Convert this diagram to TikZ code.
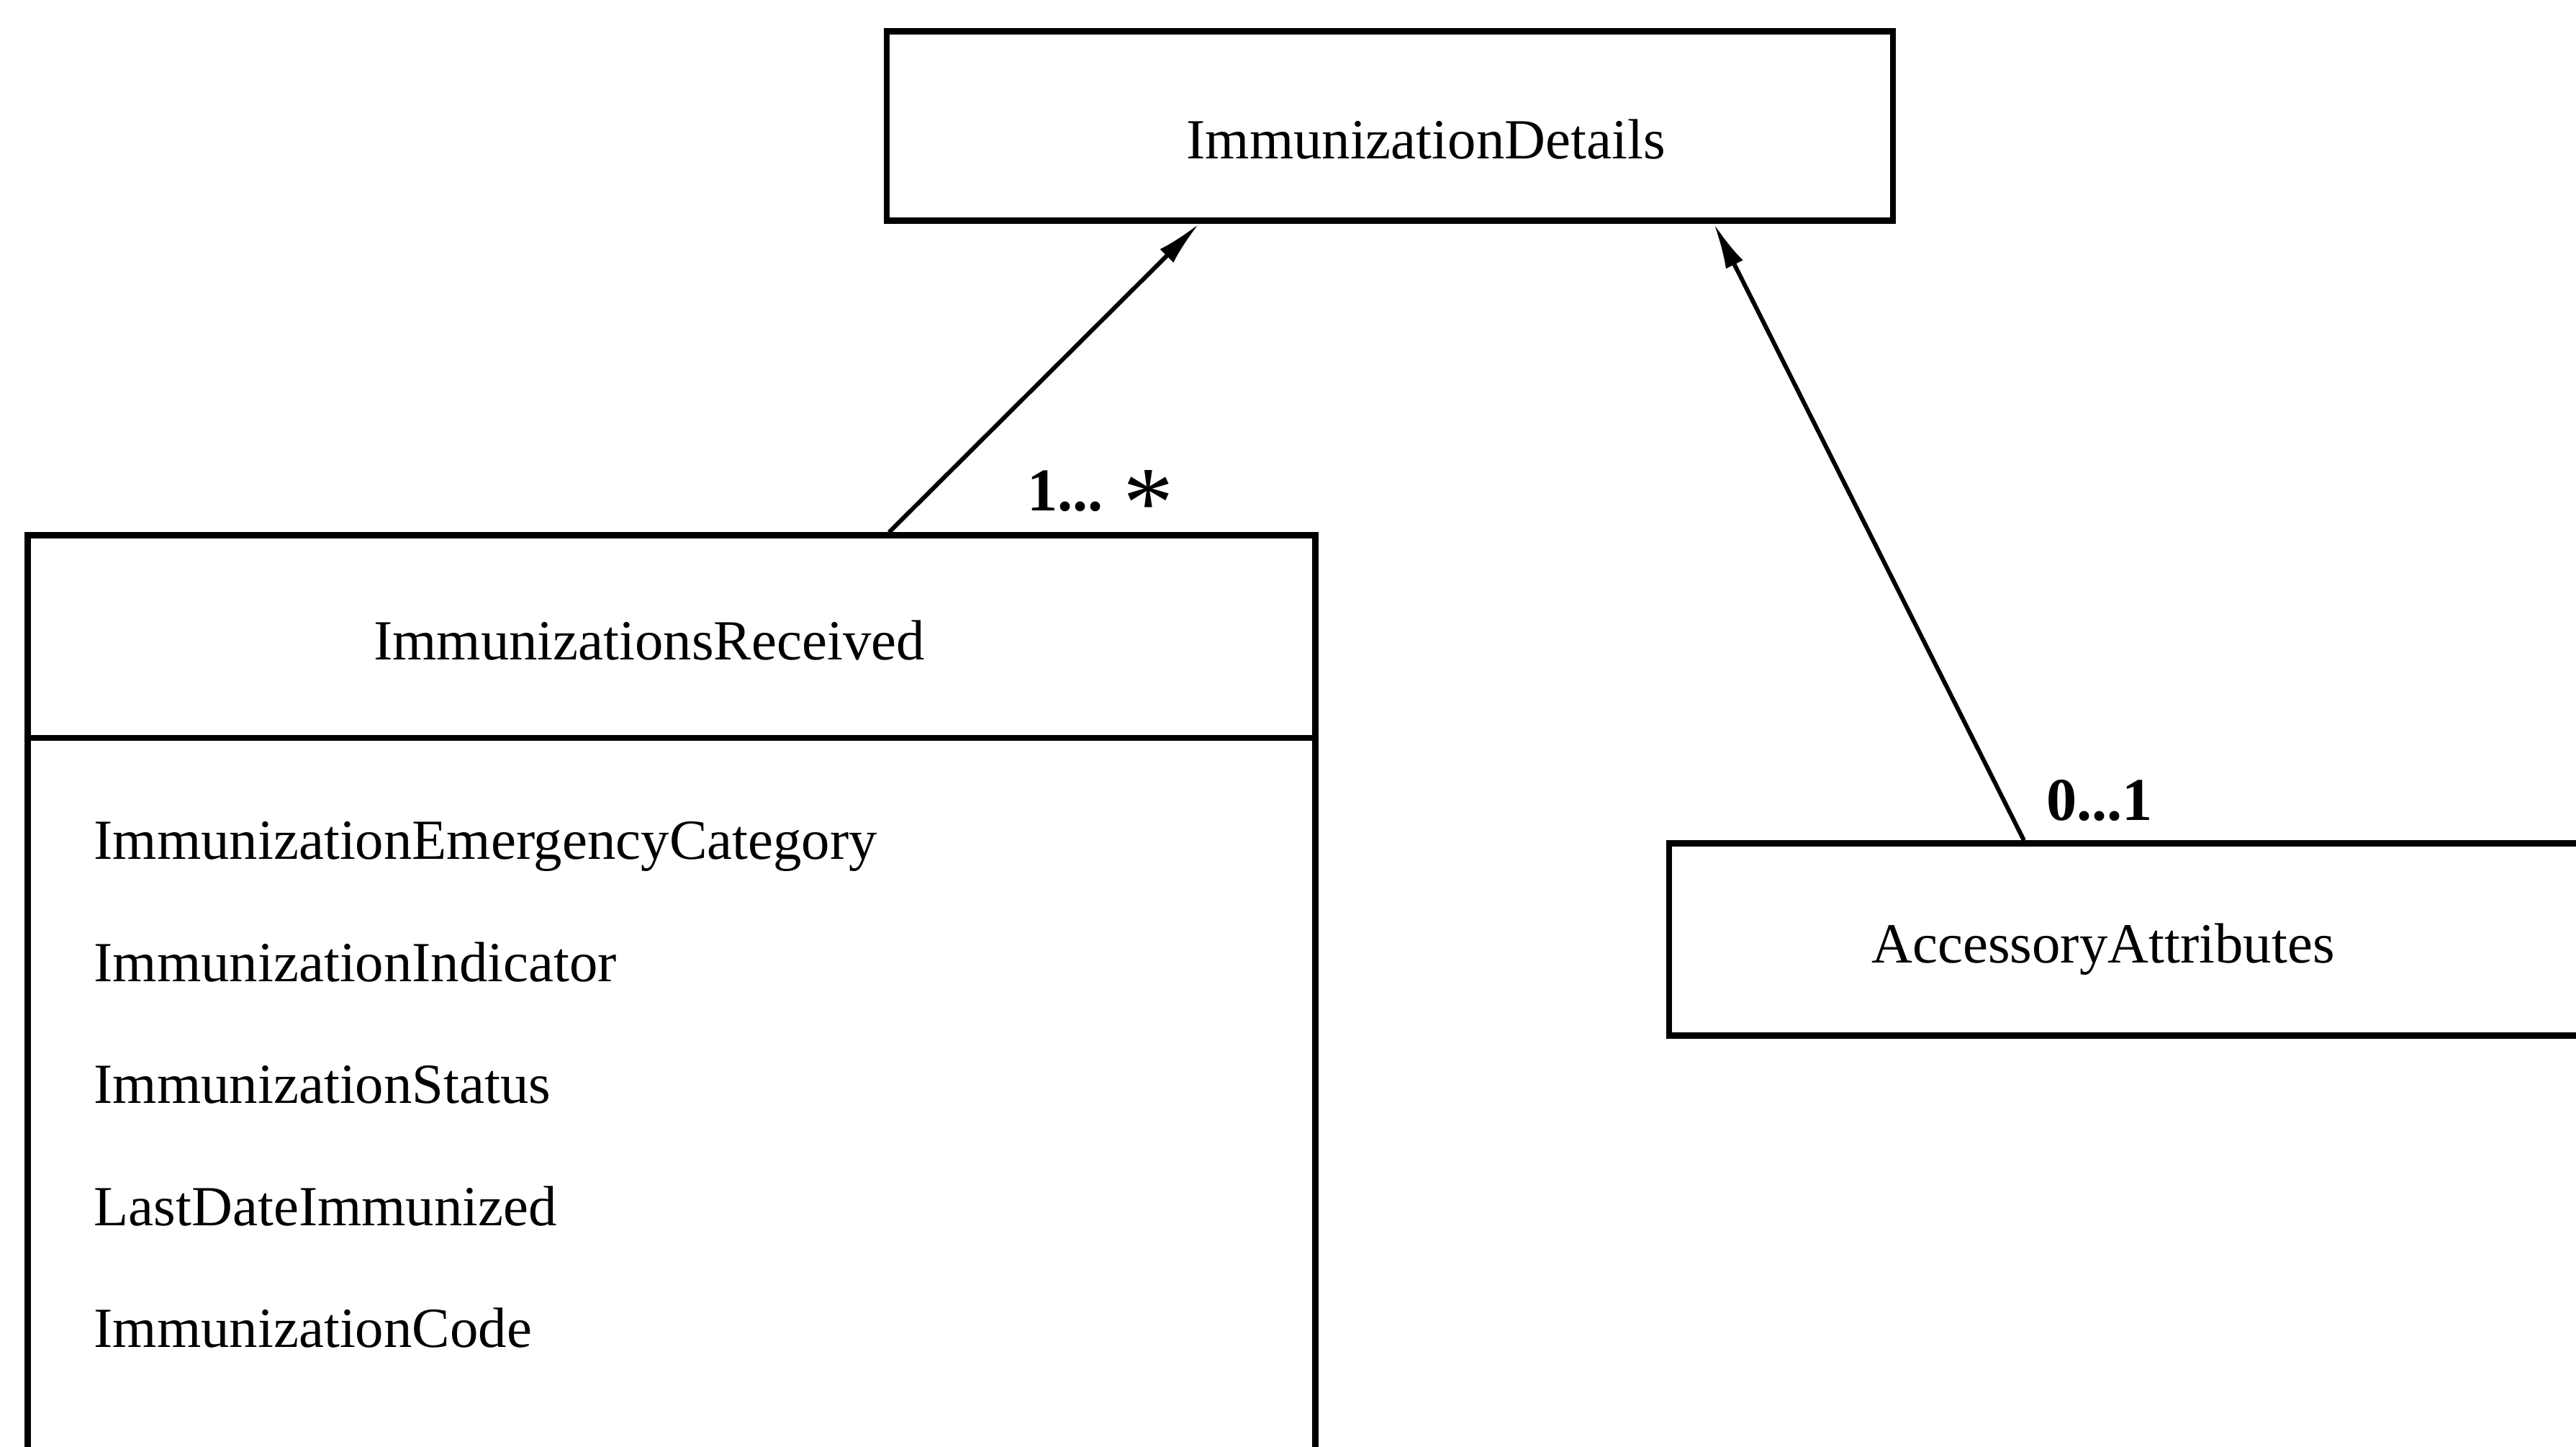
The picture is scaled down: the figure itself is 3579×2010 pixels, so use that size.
\documentclass[tikz,border=0pt]{standalone}
\usepackage{fontspec}
\setmainfont{Liberation Serif}
\usepackage{tikz}
\usetikzlibrary{arrows.meta,positioning}
\tikzstyle{classbox} = [rectangle, draw=black, line width=2.4pt, inner sep=0pt]
\tikzstyle{classname} = [text=black, inner sep=0pt, font=\fontsize{22.4}{27}\selectfont]
\tikzstyle{attr} = [classname, text height=0.5cm, text depth=0.15cm, anchor=north west]
\tikzstyle{mult} = [text=black, inner sep=0pt, font=\bfseries\fontsize{24}{28}\selectfont]
\tikzstyle{tedge}  = [draw, line width=1.7pt, -{Latex[length=18pt,width=7.5pt]}]

\begin{document}
\begin{tikzpicture}[x=0.01cm, y=0.01cm]
\path[use as bounding box, clip] (0,0) rectangle (3579,-2010);

% classes =============================

% top class
\node[classbox, minimum width=13.97cm, minimum height=2.63cm] (details) at (1931,-175) {};
\node[classname] (detailsname) at (1981,-194) {ImmunizationDetails};

% left class with attributes
\node[classbox, minimum width=17.88cm, minimum height=13.4cm] (received) at (933,-1414) {};
\coordinate (divider) at (0,-1025);
\draw[line width=2.4pt] (received.west |- divider) -- (received.east |- divider);
\node[classname] (receivedname) at (902,-890) {ImmunizationsReceived};

\node[attr, anchor=west] (attr1) at (130,-1176) {ImmunizationEmergencyCategory};
\node[below=1.03cm of attr1.south west, attr] (attr2) {ImmunizationIndicator};
\node[below=1.03cm of attr2.south west, attr] (attr3) {ImmunizationStatus};
\node[below=1.03cm of attr3.south west, attr] (attr4) {LastDateImmunized};
\node[below=1.03cm of attr4.south west, attr] (attr5) {ImmunizationCode};

% right class
\node[classbox, minimum width=13.81cm, minimum height=2.67cm] (accessory) at (3010,-1305) {};
\node[classname] (accessoryname) at (2922,-1319) {AccessoryAttributes};

% multiplicities
\node[mult] (manyrec) at (1529,-699) {1...\hspace{8pt}\raisebox{-10pt}{\mdseries\fontsize{40}{40}\selectfont *}};
\node[mult] (optacc) at (2917,-1112) {0...1};

%edges
\path[tedge] ([xshift=3.02cm]received.north) -- ([xshift=-2.65cm]details.south);
\path[tedge] ([xshift=-1.98cm]accessory.north) -- ([xshift=4.5cm]details.south);

\end{tikzpicture}
\end{document}
